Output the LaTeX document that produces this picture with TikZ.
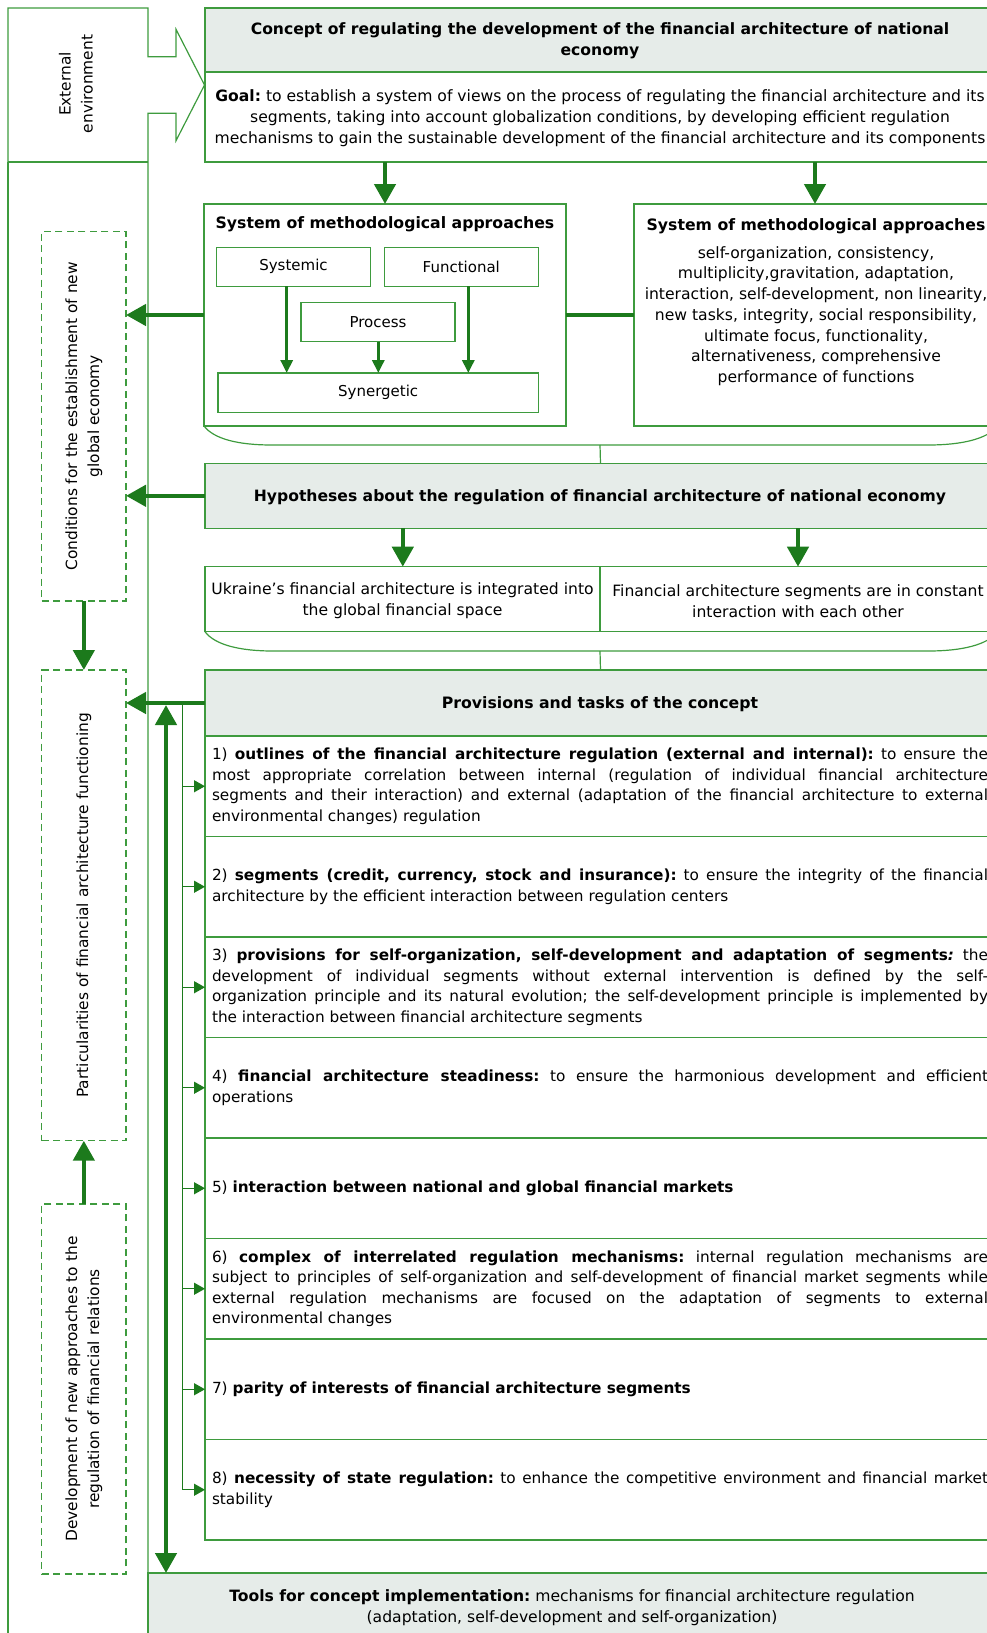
\documentclass[tikz,border=0pt]{standalone}
\usepackage{fontspec}
\setmainfont{DejaVu Sans}
\usetikzlibrary{arrows.meta}
\definecolor{framegreen}{HTML}{3E9B3E}
\definecolor{arrowgreen}{HTML}{1C7A1C}
\definecolor{headgray}{HTML}{E6ECE9}
\frenchspacing
\newcommand\bodyfont{\fontsize{15.3}{20.6}\selectfont}
\newcommand\boxfont{\fontsize{15}{20.6}\selectfont}
\newcommand\listfont{\fontsize{15.6}{20.7}\selectfont}
\newcommand\titlefont{\fontsize{15.7}{20.7}\selectfont\bfseries}
\newcommand\slimfont{\fontsize{15.6}{20.8}\selectfont}
\newcommand\sidefont{\fontsize{15.4}{22}\selectfont}
\newlength\itemw
\setlength\itemw{776pt}
\newcommand\jline[1]{\hbox to \itemw{#1}}
\newcommand\lline[1]{\hbox{#1}}
\begin{document}
\begin{tikzpicture}[x=1pt,y=-1pt,
  every node/.style={outer sep=0pt,inner sep=0pt},
  frame/.style={draw=framegreen,line width=1.2pt},
  headbox/.style={frame,fill=headgray},
  box/.style={frame,anchor=north west},
  hbox/.style={headbox,anchor=north west},
  dashbox/.style={draw=framegreen,line width=1.2pt,dash pattern=on 7pt off 4.5pt,anchor=north west},
  plainline/.style={draw=framegreen,line width=1.2pt},
  bigarrow/.style={draw=arrowgreen,line width=4.5pt,-{Triangle[length=20pt,width=21pt]}},
  dblarrow/.style={draw=arrowgreen,line width=4.5pt,{Triangle[length=20pt,width=21pt]}-{Triangle[length=20pt,width=21pt]}},
  midarrow/.style={draw=arrowgreen,line width=3pt,-{Triangle[length=13pt,width=12pt]}},
  smallarrow/.style={draw=arrowgreen,line width=1.3pt,-{Triangle[length=11pt,width=12pt]}},
  busline/.style={draw=arrowgreen,line width=1.3pt},
  boldlink/.style={draw=arrowgreen,line width=3.5pt},
  sidetext/.style={rotate=90,align=center,font=\sidefont},
  itemtext/.style={anchor=west,font=\bodyfont},
]
\useasboundingbox (0,0) rectangle (987,1633);
\clip (0,0) rectangle (987,1633);

% ---------- left column with the external environment block arrow ----------
\draw[plainline] (8,162) -- (8,8) -- (148,8) -- (148,56.7) -- (176,56.7) -- (176,29.3)
  -- (204.5,85) -- (176,140.7) -- (176,113.3) -- (148,113.3) -- (148,1640);
\draw[plainline] (8,162) -- (148,162);
\draw[plainline] (8,162) -- (8,1640);
\node[sidetext] (extlabel) at (76,84) {External\\environment};

% ---------- concept ----------
\node[hbox,minimum width=791,minimum height=64] (concept) at (205,8) {};
\node[font=\slimfont\bfseries,align=center] (concepttitle) at (600,40.5)
  {Concept of regulating the development of the financial architecture of national\\economy};
\node[box,minimum width=791,minimum height=90] (goal) at (205,72) {};
\node[font=\slimfont,align=center] (goaltext) at (600,118)
  {\textbf{Goal:} to establish a system of views on the process of regulating the financial architecture and its\\
   segments, taking into account globalization conditions, by developing efficient regulation\\
   mechanisms to gain the sustainable development of the financial architecture and its components};

% ---------- systems of methodological approaches ----------
\node[box,minimum width=362,minimum height=222] (lsys) at (204,204) {};
\node[font=\titlefont] (lsystitle) at (385,224) {System of methodological approaches};
\node[box,minimum width=153.6,minimum height=39] (systemic) at (216.7,247.3) {};
\node[font=\boxfont] at (systemic.center) {Systemic};
\node[box,minimum width=154,minimum height=39] (functional) at (384.3,247.3) {};
\node[font=\boxfont] at (functional.center) {Functional};
\node[box,minimum width=154,minimum height=39] (process) at (301,302.7) {};
\node[font=\boxfont] at (process.center) {Process};
\node[box,minimum width=320.3,minimum height=39.3] (synergetic) at (218,373) {};
\node[font=\boxfont] at (synergetic.center) {Synergetic};
\coordinate (xs) at (286.7,0);
\coordinate (xp) at (378.3,0);
\coordinate (xf) at (468.3,0);
\draw[midarrow] (systemic.south -| xs) -- (synergetic.north -| xs);
\draw[midarrow] (process.south -| xp) -- (synergetic.north -| xp);
\draw[midarrow] (functional.south -| xf) -- (synergetic.north -| xf);

\node[box,minimum width=364,minimum height=222] (rsys) at (634,204) {};
\node[font=\titlefont] (rsystitle) at (816,226) {System of methodological approaches};
\node[font=\listfont,align=center] (rsystext) at (816,316)
  {self-organization, consistency,\\multiplicity,gravitation, adaptation,\\
   interaction, self-development, non linearity,\\new tasks, integrity, social responsibility,\\
   ultimate focus, functionality,\\alternativeness, comprehensive\\performance of functions};
\draw[boldlink] (lsys.east) -- (rsys.west);

\coordinate (xa) at (385,0);
\coordinate (xb) at (815,0);
\draw[bigarrow] (goal.south -| xa) -- (lsys.north -| xa);
\draw[bigarrow] (goal.south -| xb) -- (rsys.north -| xb);

% curved bottom under both system boxes
\draw[plainline] (204,426) .. controls (214,439) and (238,445) .. (272,445) -- (928,445)
  .. controls (962,445) and (987,439) .. (998,426);
\coordinate (sysbottom) at (600,445);

% ---------- hypotheses ----------
\node[hbox,minimum width=791,minimum height=65] (hyp) at (205,463.3) {};
\node[font=\slimfont\bfseries] (hyptitle) at (600,497.5)
  {Hypotheses about the regulation of financial architecture of national economy};
\draw[plainline] (sysbottom) -- (hyp.north);

\node[box,minimum width=395,minimum height=65] (hypa) at (205,566.7) {};
\node[font=\slimfont,align=center] at (402.5,601)
  {Ukraine’s financial architecture is integrated into\\the global financial space};
\node[box,minimum width=396,minimum height=65] (hypb) at (600,566.7) {};
\node[font=\slimfont,align=center] at (798,601)
  {Financial architecture segments are in constant\\interaction with each other};
\coordinate (xc) at (402.8,0);
\coordinate (xd) at (798,0);
\draw[bigarrow] (hyp.south -| xc) -- (hypa.north -| xc);
\draw[bigarrow] (hyp.south -| xd) -- (hypb.north -| xd);

\draw[plainline] (205,631.7) .. controls (215,645) and (240,651) .. (273,651) -- (928,651)
  .. controls (962,651) and (987,645) .. (998,631.7);
\coordinate (hypbottom) at (600,651);

% ---------- provisions and tasks ----------
\node[hbox,minimum width=791,minimum height=66] (prov) at (205,670) {};
\node[font=\titlefont] (provtitle) at (600,704) {Provisions and tasks of the concept};
\draw[plainline] (hypbottom) -- (prov.north);

\foreach \i in {1,...,8}{
  \node[box,minimum width=791,minimum height=100.5] (item\i) at (205,{736+(\i-1)*100.5}) {};
}

\node[itemtext] (text1) at ([xshift=7]item1.west) {\vbox{
  \jline{1) \textbf{outlines of the financial architecture regulation (external and internal):} to ensure the}
  \jline{most appropriate correlation between internal (regulation of individual financial architecture}
  \jline{segments and their interaction) and external (adaptation of the financial architecture to external}
  \lline{environmental changes) regulation}}};
\node[itemtext] (text2) at ([xshift=7]item2.west) {\vbox{
  \jline{2) \textbf{segments (credit, currency, stock and insurance):} to ensure the integrity of the financial}
  \lline{architecture by the efficient interaction between regulation centers}}};
\node[itemtext] (text3) at ([xshift=7]item3.west) {\vbox{
  \jline{3) \textbf{provisions for self-organization, self-development and adaptation of segments\textit{:}} the}
  \jline{development of individual segments without external intervention is defined by the self-}
  \jline{organization principle and its natural evolution; the self-development principle is implemented by}
  \lline{the interaction between financial architecture segments}}};
\node[itemtext] (text4) at ([xshift=7]item4.west) {\vbox{
  \jline{4) \textbf{financial architecture steadiness:} to ensure the harmonious development and efficient}
  \lline{operations}}};
\node[itemtext] (text5) at ([xshift=7]item5.west) {\vbox{
  \lline{5) \textbf{interaction between national and global financial markets}}}};
\node[itemtext] (text6) at ([xshift=7]item6.west) {\vbox{
  \jline{6) \textbf{complex of interrelated regulation mechanisms:} internal regulation mechanisms are}
  \jline{subject to principles of self-organization and self-development of financial market segments while}
  \jline{external regulation mechanisms are focused on the adaptation of segments to external}
  \lline{environmental changes}}};
\node[itemtext] (text7) at ([xshift=7]item7.west) {\vbox{
  \lline{7) \textbf{parity of interests of financial architecture segments}}}};
\node[itemtext] (text8) at ([xshift=7]item8.west) {\vbox{
  \jline{8) \textbf{necessity of state regulation:} to enhance the competitive environment and financial market}
  \lline{stability}}};

% ---------- tools ----------
\node[hbox,minimum width=848,minimum height=69] (tools) at (148,1573) {};
\node[font=\slimfont,align=center] (toolstext) at (572,1608)
  {\textbf{Tools for concept implementation:} mechanisms for financial architecture regulation\\
   (adaptation, self-development and self-organization)};

% ---------- left column blocks ----------
\node[dashbox,minimum width=84.3,minimum height=369.6] (cond) at (41.7,231.4) {};
\node[sidetext] at (cond.center) {Conditions for the establishment of new\\global economy};
\node[dashbox,minimum width=84.3,minimum height=470.7] (part) at (41.7,670) {};
\node[sidetext] at (part.center) {Particularities of financial architecture functioning};
\node[dashbox,minimum width=84.3,minimum height=370] (dev) at (41.7,1204) {};
\node[sidetext] at (dev.center) {Development of new approaches to the\\regulation of financial relations};

\draw[bigarrow] (lsys.west) -- (cond.east |- lsys.west);
\draw[bigarrow] (hyp.west) -- (cond.east |- hyp.west);
\draw[bigarrow] (prov.west) -- (part.east |- prov.west);
\draw[bigarrow] (cond.south) -- (part.north);
\draw[bigarrow] (dev.north) -- (part.south);

% two-way link between the provisions and the tools
\coordinate (dbl) at (166,0);
\draw[dblarrow] ([yshift=-2]prov.west -| dbl) -- (tools.north -| dbl);

% bus feeding every provision
\coordinate (bus) at (182.7,0);
\draw[busline] (prov.west -| bus) -- (item8.west -| bus);
\foreach \i in {1,...,8}{
  \draw[smallarrow] (item\i.west -| bus) -- (item\i.west);
}
\end{tikzpicture}
\end{document}
